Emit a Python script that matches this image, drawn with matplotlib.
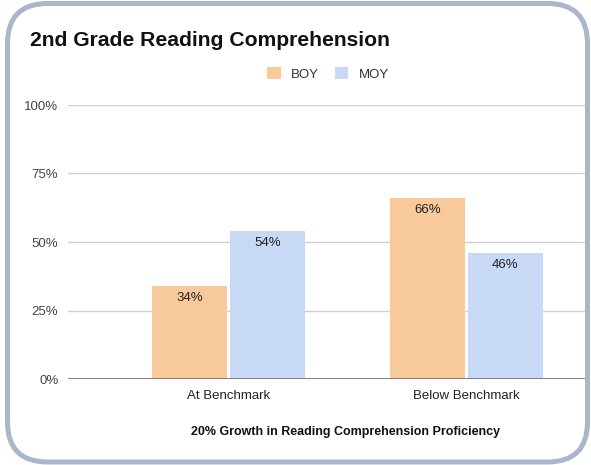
import matplotlib
matplotlib.use("Agg")
import matplotlib.pyplot as plt
import numpy as np
from matplotlib.patches import FancyBboxPatch
from matplotlib.transforms import IdentityTransform

plt.rcParams['font.family'] = ['Liberation Sans', 'DejaVu Sans']

categories = ["At Benchmark", "Below Benchmark"]
series_names = ["BOY", "MOY"]
boy = [34, 66]
moy = [54, 46]
yticks = [0, 25, 50, 75, 100]
ytick_labels = ["0%", "25%", "50%", "75%", "100%"]
title = "2nd Grade Reading Comprehension"
xlabel = "20% Growth in Reading Comprehension Proficiency"
colors = ["#f8c99b", "#c8d9f6"]

W, H = 591, 465
fig = plt.figure(figsize=(W/100, H/100), dpi=100)

# rounded frame (display pixel coords, origin bottom-left)
frame = FancyBboxPatch((7.5, 3.0), 580, 458.5,
                       boxstyle="round,pad=0,rounding_size=40",
                       transform=IdentityTransform(), facecolor="none",
                       edgecolor="#aab6c9", linewidth=3.6, zorder=10)
fig.patches.append(frame)

ax_l, ax_r = 68, 586
ax_t, ax_b = 105, 379
ax = fig.add_axes([ax_l/W, 1-ax_b/H, (ax_r-ax_l)/W, (ax_b-ax_t)/H])
ax.set_facecolor("none")

x = np.arange(len(categories))
bw = 0.315
gap = 0.006
b1 = ax.bar(x - bw/2 - gap, boy, width=bw, color=colors[0], label=series_names[0], zorder=3)
b2 = ax.bar(x + bw/2 + gap, moy, width=bw, color=colors[1], label=series_names[1], zorder=3)

for bars, vals in [(b1, boy), (b2, moy)]:
    for r, v in zip(bars, vals):
        ax.text(r.get_x() + r.get_width()/2, v - 2.2, f"{v}%", ha="center", va="top",
                fontsize=9.5, color="#222222", zorder=4)

ax.set_xlim(-0.674, 1.502)
ax.set_ylim(0, 100)
ax.set_yticks(yticks)
ax.set_yticklabels(ytick_labels, fontsize=9.5, color="#444444")
ax.yaxis.grid(True, color="#d0d0d0", linewidth=1.0, zorder=0)
ax.axhline(0, color="#777777", linewidth=1.3, zorder=5)
ax.tick_params(axis="y", length=0, pad=7)
ax.tick_params(axis="x", length=0, pad=8)
ax.set_xticks(x)
ax.set_xticklabels(categories, fontsize=9.5, color="#222222")
for s in ax.spines.values():
    s.set_visible(False)

fig.text(30/W, 1-41/H, title, fontsize=15.2, fontweight="bold", ha="left", va="center", color="#111111")
fig.text(346/W, 1-432/H, xlabel, fontsize=9, fontweight="bold", ha="center", va="center", color="#111111")

leg = fig.legend(handles=[b1, b2], labels=series_names, loc="center",
                 bbox_to_anchor=(328/W, 1-74/H), ncol=2, frameon=False,
                 fontsize=9.5, handlelength=1.0, handleheight=1.0,
                 handletextpad=0.8, columnspacing=1.2)
for t in leg.get_texts():
    t.set_color("#333333")

fig.savefig("out.png", dpi=100)
